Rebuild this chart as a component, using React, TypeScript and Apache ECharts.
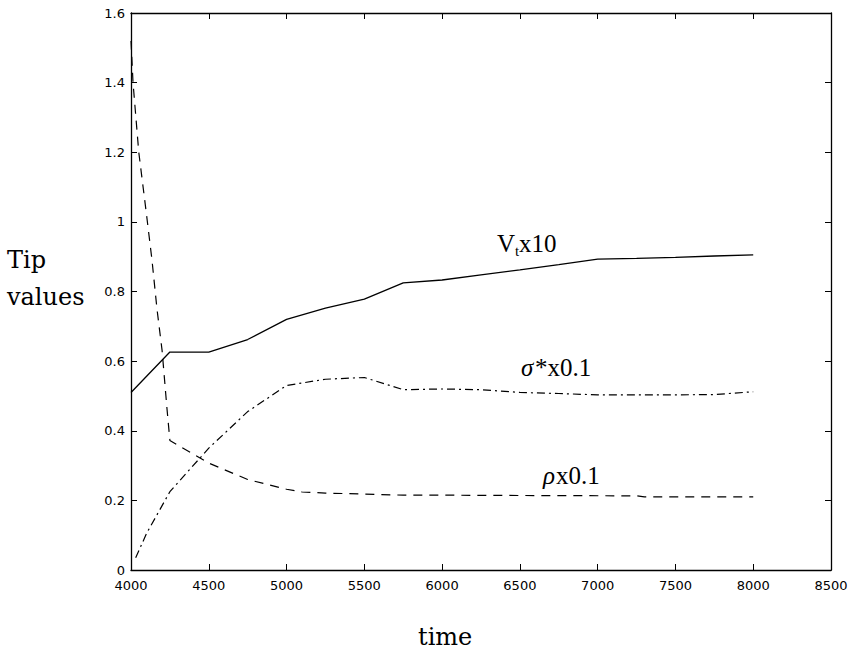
import React, { useEffect, useRef } from "react";
import * as echarts from "echarts";

// ---- data ----
const vtTime = [4000, 4250, 4500, 4750, 5000, 5250, 5500, 5750, 6000, 6250, 6500, 6750, 7000, 7250, 7500, 7750, 8000];
const vtVals = [0.51, 0.626, 0.626, 0.662, 0.72, 0.752, 0.778, 0.825, 0.833, 0.848, 0.862, 0.877, 0.893, 0.895, 0.898, 0.902, 0.905];

const sigmaTime = [4030, 4100, 4250, 4500, 4750, 5000, 5250, 5500, 5750, 6000, 6250, 6500, 6750, 7000, 7250, 7500, 7750, 8000];
const sigmaVals = [0.035, 0.105, 0.225, 0.35, 0.455, 0.53, 0.548, 0.553, 0.518, 0.52, 0.518, 0.51, 0.507, 0.503, 0.503, 0.503, 0.504, 0.512];

const rhoTime = [4000, 4013, 4050, 4100, 4135, 4167, 4200, 4230, 4250, 4500, 4750, 5000, 5100, 5250, 5500, 5750, 6000, 6500, 7250, 7300, 8000];
const rhoVals = [1.52, 1.4, 1.2, 1.02, 0.89, 0.75, 0.63, 0.47, 0.372, 0.307, 0.26, 0.232, 0.224, 0.221, 0.218, 0.215, 0.215, 0.214, 0.213, 0.21, 0.21];

const xMin = 4000, xMax = 8500, xStep = 500;
const yMin = 0, yMax = 1.6, yStep = 0.2;

const pairs = (xs: number[], ys: number[]) => xs.map((x, i) => [x, ys[i]]);

const SERIF = "Liberation Serif";
const SERIF2 = "DejaVu Serif";

const txt = (x: number, y: number, text: string, family: string, size: number, italic = false) => ({
  type: "text",
  x,
  y,
  style: {
    text,
    fontFamily: family,
    fontSize: size,
    fontStyle: italic ? "italic" : "normal",
    fill: "#000",
    verticalAlign: "middle",
  },
});

export default function App() {
  const ref = useRef<HTMLDivElement>(null);
  useEffect(() => {
    if (!ref.current) return;
    const chart = echarts.init(ref.current, null, { renderer: "svg" });
    const tickStyle = { color: "#000", width: 1 };
    const baseX = {
      type: "value", min: xMin, max: xMax, interval: xStep,
      splitLine: { show: false },
      axisLine: { show: true, onZero: false, lineStyle: { color: "#000", width: 1.3 } },
      axisTick: { show: true, inside: true, length: 6, lineStyle: tickStyle },
    };
    const baseY = {
      type: "value", min: yMin, max: yMax, interval: yStep,
      splitLine: { show: false },
      axisLine: { show: true, onZero: false, lineStyle: { color: "#000", width: 1.3 } },
      axisTick: { show: true, inside: true, length: 6, lineStyle: tickStyle },
    };
    const labelStyle = { color: "#000", fontFamily: "DejaVu Sans", fontSize: 13 };
    chart.setOption({
      animation: false,
      backgroundColor: "#fff",
      grid: { left: 131, right: 20, top: 13, bottom: 82, containLabel: false },
      xAxis: [
        { ...baseX, position: "bottom", axisLabel: { ...labelStyle, margin: 9, formatter: (v: number) => String(v) } },
        { ...baseX, position: "top", axisLabel: { show: false } },
      ],
      yAxis: [
        { ...baseY, position: "left", axisLabel: { ...labelStyle, margin: 6, formatter: (v: number) => String(Math.round(v * 10) / 10) } },
        { ...baseY, position: "right", axisLabel: { show: false } },
      ],
      series: [
        {
          type: "line", name: "Vt", data: pairs(vtTime, vtVals), showSymbol: false,
          lineStyle: { color: "#000", width: 1.3, type: "solid" },
        },
        {
          type: "line", name: "sigma", data: pairs(sigmaTime, sigmaVals), showSymbol: false,
          lineStyle: { color: "#000", width: 1.2, type: [8, 4, 2, 4] },
        },
        {
          type: "line", name: "rho", data: pairs(rhoTime, rhoVals), showSymbol: false,
          lineStyle: { color: "#000", width: 1.2, type: [9, 7] },
        },
      ],
      graphic: [
        txt(7, 260, "Tip", SERIF2, 24),
        txt(7, 297, "values", SERIF2, 24),
        txt(418, 637, "time", SERIF2, 24),
        txt(497, 243.5, "V", SERIF, 25),
        txt(515, 251, "t", SERIF, 15),
        txt(519, 243.5, "x10", SERIF, 25),
        txt(521, 367.5, "σ", SERIF, 25, true),
        txt(535, 367.5, "*x0.1", SERIF, 25),
        txt(543, 475.5, "ρ", SERIF, 25, true),
        txt(556, 475.5, "x0.1", SERIF, 25),
      ],
    });
    return () => chart.dispose();
  }, []);
  return (
    <div
      ref={ref}
      style={{ position: "fixed", left: 0, top: 0, width: 851, height: 652, background: "#fff" }}
    />
  );
}
